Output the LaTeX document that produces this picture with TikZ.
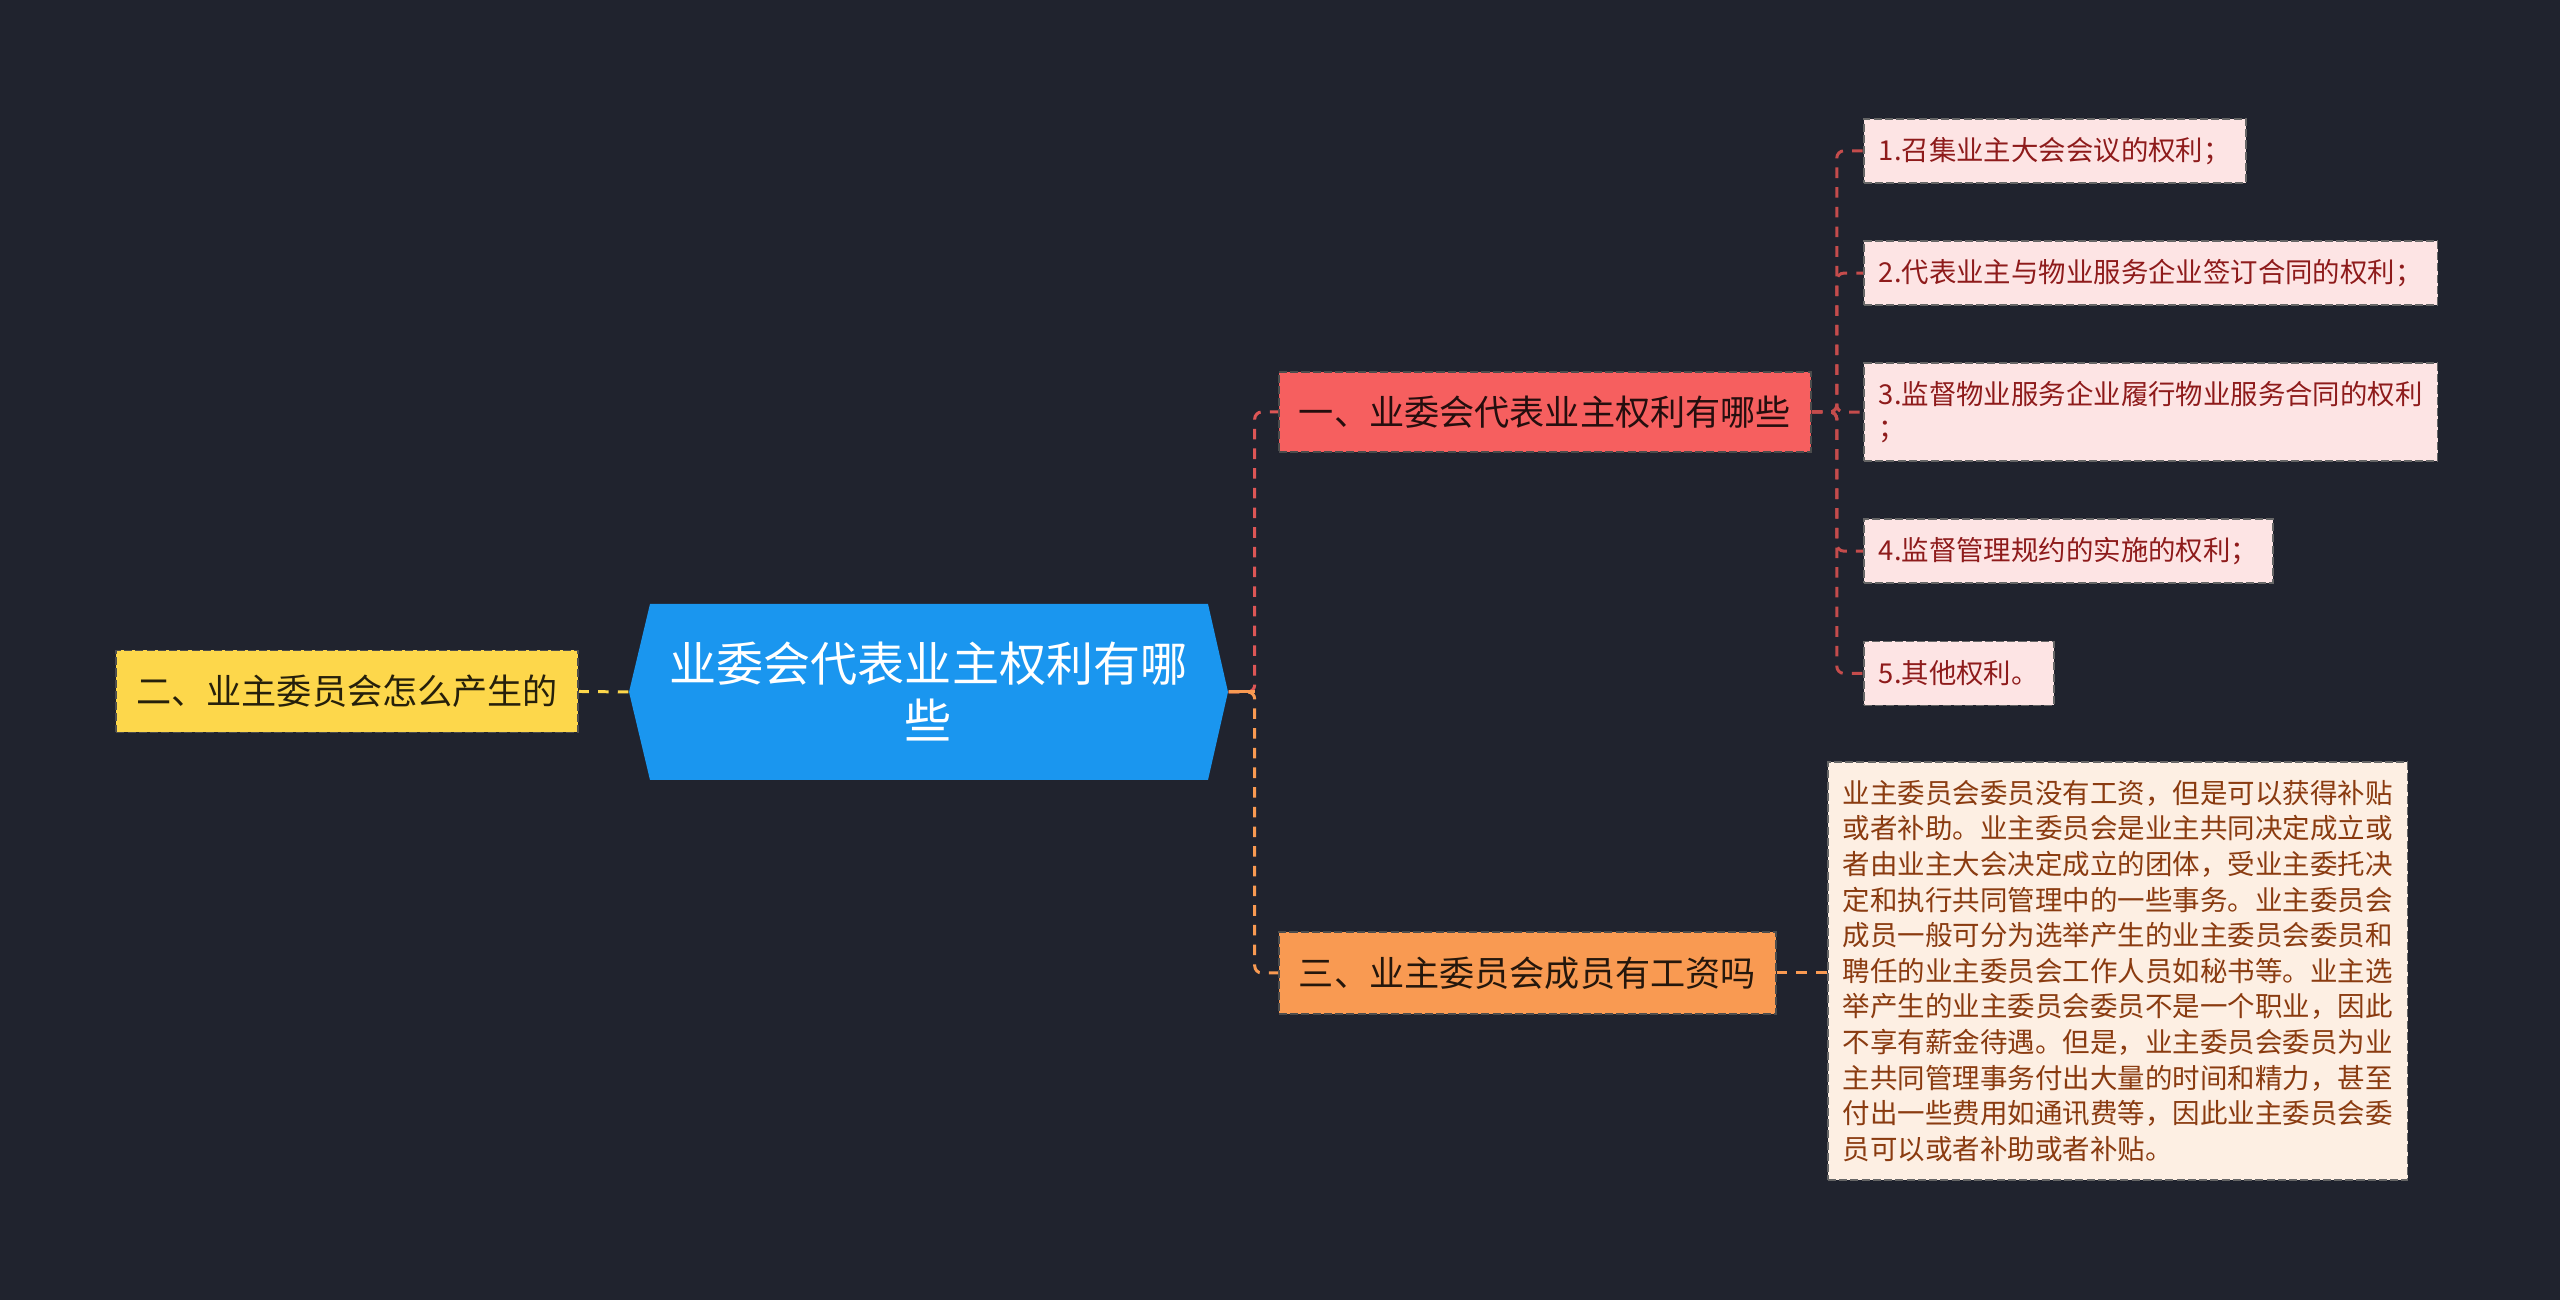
\documentclass[tikz,border=0pt]{standalone}
\usepackage{fontspec}
\setmainfont{Noto Sans CJK SC}
\usepackage{xcolor}
\usetikzlibrary{positioning}

\definecolor{fondo}{HTML}{20232E}
\definecolor{azulraiz}{HTML}{1A96EF}
\definecolor{amarillo}{HTML}{FDD74B}
\definecolor{rojo}{HTML}{F65F5F}
\definecolor{naranja}{HTML}{F99A52}
\definecolor{rosa}{HTML}{FDE4E4}
\definecolor{crema}{HTML}{FDEFE3}
\definecolor{txtrojo}{HTML}{8E1B1B}
\definecolor{txtcafe}{HTML}{8A3B10}

\begin{document}
\begin{tikzpicture}[
    % ---------- estilos ----------
    rootbox/.style={draw=none, inner sep=0pt, minimum width=5.99cm,
      minimum height=1.76cm, align=center, text=white,
      font=\fontsize{13.4pt}{16.2pt}\selectfont},
    secbox/.style={draw=black!70, dash pattern=on 2.3pt off 0.9pt, line width=0.5pt,
      inner xsep=0.2cm, minimum height=0.82cm,
      font=\fontsize{10pt}{12pt}\selectfont},
    leafbox/.style={draw=black!60, dash pattern=on 2.3pt off 0.9pt, line width=0.5pt,
      fill=rosa, text=txtrojo, inner xsep=0.15cm, minimum height=0.64cm,
      align=left, font=\fontsize{7.8pt}{9.8pt}\selectfont},
    notebox/.style={draw=black!60, dash pattern=on 2.3pt off 0.9pt, line width=0.5pt,
      fill=crema, text=txtcafe, inner xsep=0.15cm, minimum height=4.18cm,
      align=left, font=\fontsize{7.82pt}{10.13pt}\selectfont},
    link/.style={line width=0.85pt, dash pattern=on 3pt off 2.6pt, rounded corners=2pt}
]

\def\rootX{9.285}
\def\rootY{6.08}
\def\colB{12.78}
\def\colL{18.63}

% ====== Fondo ======
\fill[fondo] (0,0) rectangle (25.6,13);

% ====== Nodo central ======
\fill[azulraiz] (\rootX-2.995,\rootY) -- (\rootX-2.785,\rootY+0.88)
  -- (\rootX+2.795,\rootY+0.88) -- (\rootX+2.995,\rootY)
  -- (\rootX+2.795,\rootY-0.88) -- (\rootX-2.785,\rootY-0.88) -- cycle;
\node[rootbox] (root) at (\rootX,\rootY) {业委会代表业主权利有哪\\些};

% ====== Ramas ======
\node[secbox, fill=amarillo, text=black!85!amarillo, anchor=east]
  (b2) at (5.79,6.085) {二、业主委员会怎么产生的};
\node[secbox, fill=rojo, text=black!85!rojo, anchor=west, minimum height=0.8cm]
  (b1) at (\colB,8.88) {一、业委会代表业主权利有哪些};
\node[secbox, fill=naranja, text=black!85!naranja, anchor=west]
  (b3) at (\colB,3.27) {三、业主委员会成员有工资吗};

% ====== Hojas ======
\node[leafbox, anchor=north west] (l1) at (\colL,11.82) {1.召集业主大会会议的权利；};
\node[leafbox, below=0.565cm of l1.south west, anchor=north west] (l2)
  {2.代表业主与物业服务企业签订合同的权利；};
\node[leafbox, below=0.565cm of l2.south west, anchor=north west, minimum height=0.975cm] (l3)
  {3.监督物业服务企业履行物业服务合同的权利\\；};
\node[leafbox, below=0.565cm of l3.south west, anchor=north west] (l4)
  {4.监督管理规约的实施的权利；};
\node[leafbox, below=0.565cm of l4.south west, anchor=north west] (l5)
  {5.其他权利。};

\node[notebox, anchor=west] (nota) at (18.27,3.29) {%
  业主委员会委员没有工资，但是可以获得补贴\\
  或者补助。业主委员会是业主共同决定成立或\\
  者由业主大会决定成立的团体，受业主委托决\\
  定和执行共同管理中的一些事务。业主委员会\\
  成员一般可分为选举产生的业主委员会委员和\\
  聘任的业主委员会工作人员如秘书等。业主选\\
  举产生的业主委员会委员不是一个职业，因此\\
  不享有薪金待遇。但是，业主委员会委员为业\\
  主共同管理事务付出大量的时间和精力，甚至\\
  付出一些费用如通讯费等，因此业主委员会委\\
  员可以或者补助或者补贴。};

% ====== Conectores ======
\draw[link, color=amarillo] (root.west) -- (b2.east);
\draw[link, color=rojo!90!black] (root.east) -- ++(0.26,0) |- (b1.west);
\draw[link, color=naranja] (root.east) -- ++(0.26,0) |- (b3.west);
\draw[line width=0.85pt, color=naranja] (root.east) -- ++(0.26,0);

\foreach \i in {1,...,5} {
    \draw[link, color=rojo!80!black] (b1.east) -- ++(0.25,0) |- (l\i.west);
}

\draw[link, color=naranja] (b3.east) -- (b3.east -| nota.west);

\end{tikzpicture}
\end{document}
